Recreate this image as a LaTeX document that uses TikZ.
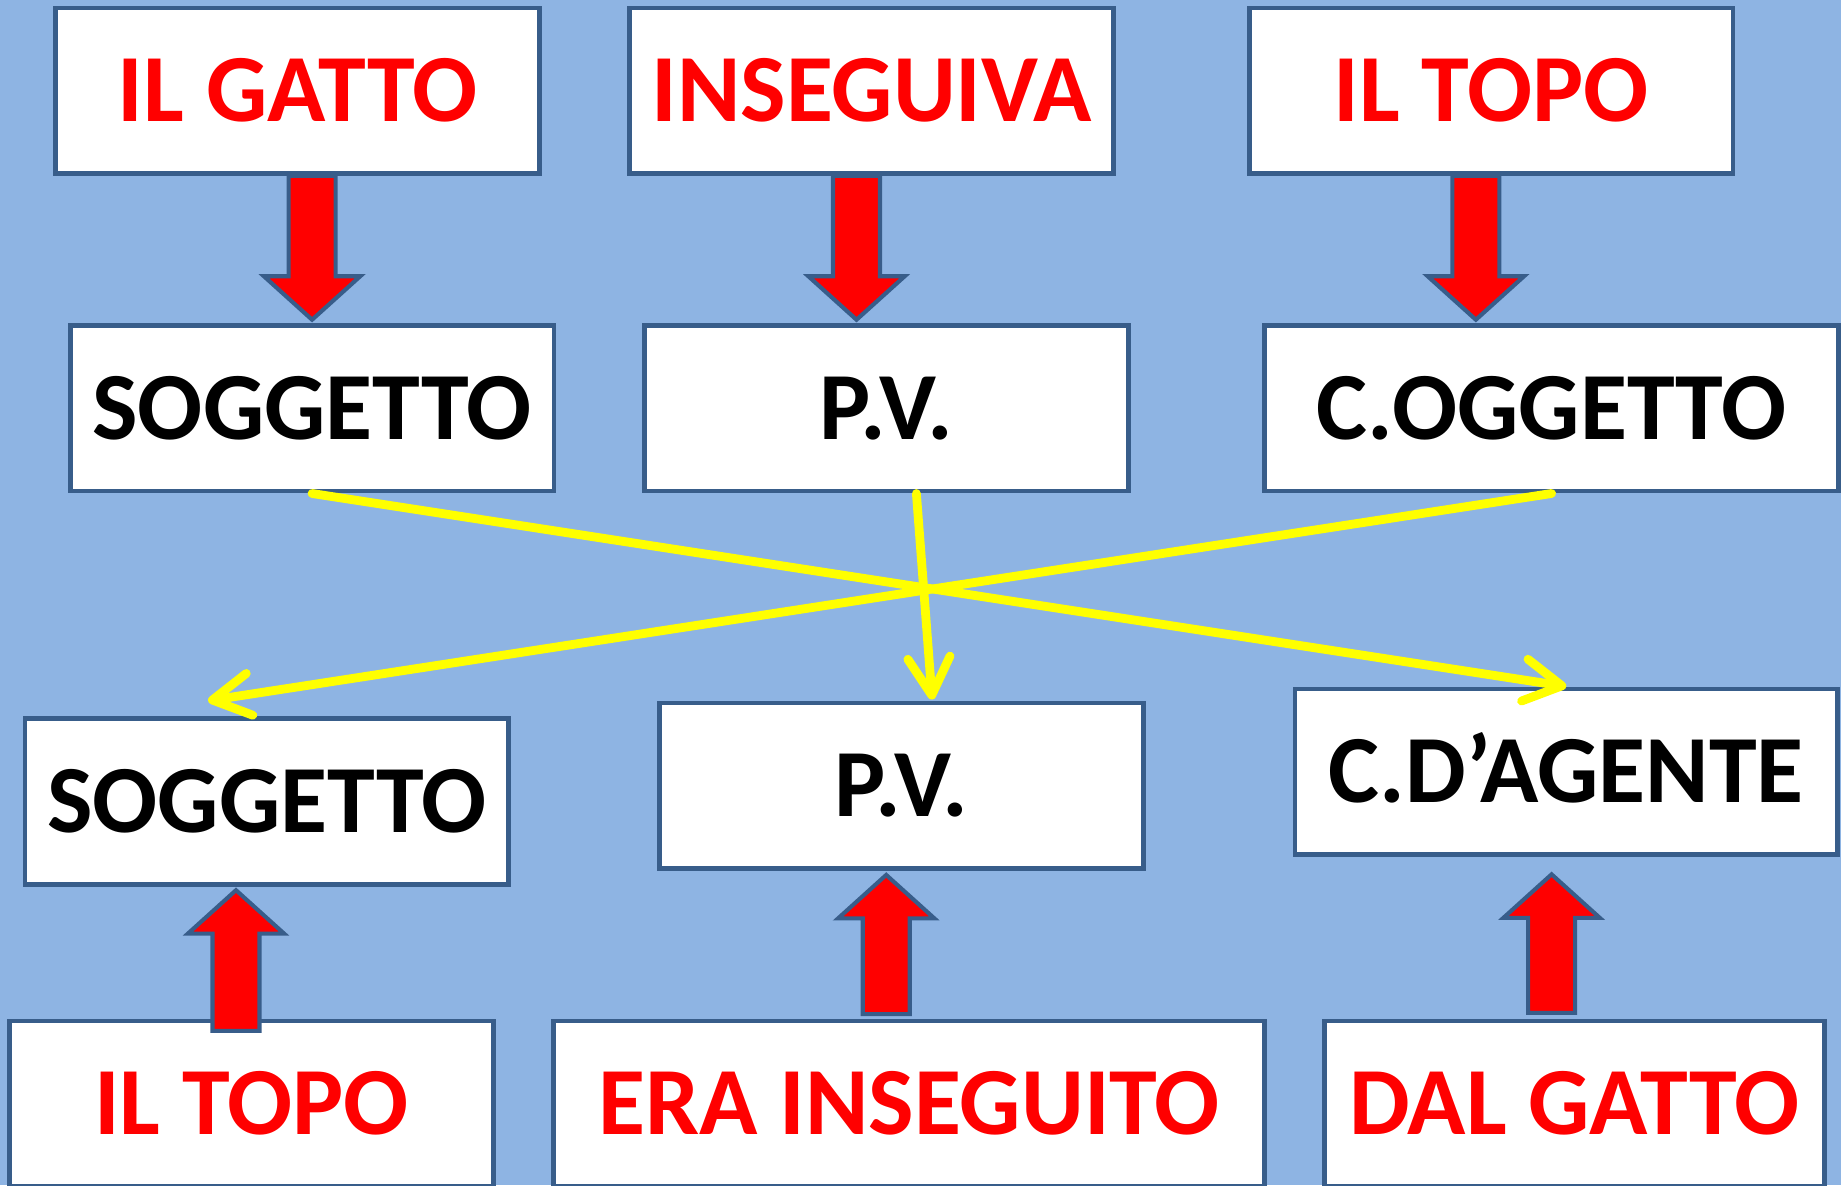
\documentclass[tikz,border=0pt]{standalone}
\usepackage{fontspec}
\setmainfont{Carlito}
\usetikzlibrary{calc,arrows.meta}
\definecolor{bgcol}{RGB}{142,180,227}
\definecolor{bordercol}{RGB}{56,93,138}
\definecolor{yel}{RGB}{255,255,0}
\newcommand{\bigfont}{\fontsize{82bp}{90bp}\selectfont\bfseries}
\newcommand{\blockarr}[3]{%
  \draw[blockarrow] let \p1=(#1), \p2=(#2) in
    ({\x2-20bp},\y1) -- ({\x2-20bp},{\y2+(#3)*37bp}) -- ({\x2-41bp},{\y2+(#3)*37bp})
    -- (\x2,\y2) -- ({\x2+41bp},{\y2+(#3)*37bp}) -- ({\x2+20bp},{\y2+(#3)*37bp})
    -- ({\x2+20bp},\y1) -- cycle;}
\begin{document}
\begin{tikzpicture}[x=1bp,y=-1bp,
  box/.style={draw=bordercol, fill=white, line width=4bp, minimum width=412bp,
    minimum height=141bp, inner sep=0pt, font=\bigfont, text height=53bp, text depth=0pt},
  redtxt/.style={box, text=red},
  blktxt/.style={box, text=black},
  blockarrow/.style={fill=red, draw=bordercol, line width=3.5bp, line join=miter},
  yline/.style={draw=yel, line width=7.5bp, line cap=round,
    -{Straight Barb[length=32bp,width=36bp,round]}}]
\fill[bgcol] (0,0) rectangle (1568,1009.3);
\useasboundingbox (0,0) rectangle (1568,1009.3);

% top row
\node[redtxt] (t1) at (253.4,77.2) {IL GATTO};
\node[redtxt] (t2) at (742.2,77.2) {INSEGUIVA};
\node[redtxt] (t3) at (1270,77.2) {IL TOPO};
% second row
\node[blktxt] (m1) at (265.8,347.8) {SOGGETTO};
\node[blktxt] (m2) at (755.2,347.8) {P.V.};
\node[blktxt, minimum width=489bp] (m3) at (1321.5,347.8) {C.OGGETTO};
% third row
\node[blktxt] (b1) at (227.2,682.7) {SOGGETTO};
\node[blktxt] (b2) at (767.9,669.3) {P.V.};
\node[blktxt, minimum width=462bp] (b3) at (1334,657.2) {C.D’AGENTE};
% bottom row
\node[redtxt] (u1) at (214.3,940) {IL TOPO};
\node[redtxt, minimum width=605.6bp] (u2) at (774.2,940) {ERA INSEGUITO};
\node[redtxt, minimum width=426bp] (u3) at (1341,940) {DAL GATTO};

% red block arrows (down)
\coordinate (a1s) at (m1.north |- t1.south);
\coordinate (a1t) at ($(m1.north)+(0,-3)$);
\coordinate (a2t) at ($(m2.north)+(-25.7,-3)$);
\coordinate (a2s) at (a2t |- t2.south);
\coordinate (a3t) at ($(m3.north)+(-64.5,-3)$);
\coordinate (a3s) at (a3t |- t3.south);
\blockarr{a1s}{a1t}{1}
\blockarr{a2s}{a2t}{1}
\blockarr{a3s}{a3t}{1}

% red block arrows (up)
\coordinate (c1t) at ($(b1.south)+(-26.2,3)$);
\coordinate (c1s) at ($(c1t |- u1.north)+(0,10.5)$);
\coordinate (c2t) at ($(b2.south)+(-13.1,3.4)$);
\coordinate (c2s) at ($(c2t |- u2.north)+(0,-3.8)$);
\coordinate (c3t) at ($(b3.south)+(-12.5,15)$);
\coordinate (c3s) at ($(c3t |- u3.north)+(0,-4.8)$);
\blockarr{c1s}{c1t}{-1}
\blockarr{c2s}{c2t}{-1}
\blockarr{c3s}{c3t}{-1}

% yellow connectors
\coordinate (y2t) at ($(b1.north)+(-50,-13.4)$);
\coordinate (y3s) at ($(m2.south)+(25.3,0)$);
\coordinate (y3t) at ($(b2.north)+(26,-1)$);
\draw[yline] (m1.south) -- (b3.north);
\draw[yline] (m3.south) -- (y2t);
\draw[yline] (y3s) -- (y3t);
\end{tikzpicture}
\end{document}
